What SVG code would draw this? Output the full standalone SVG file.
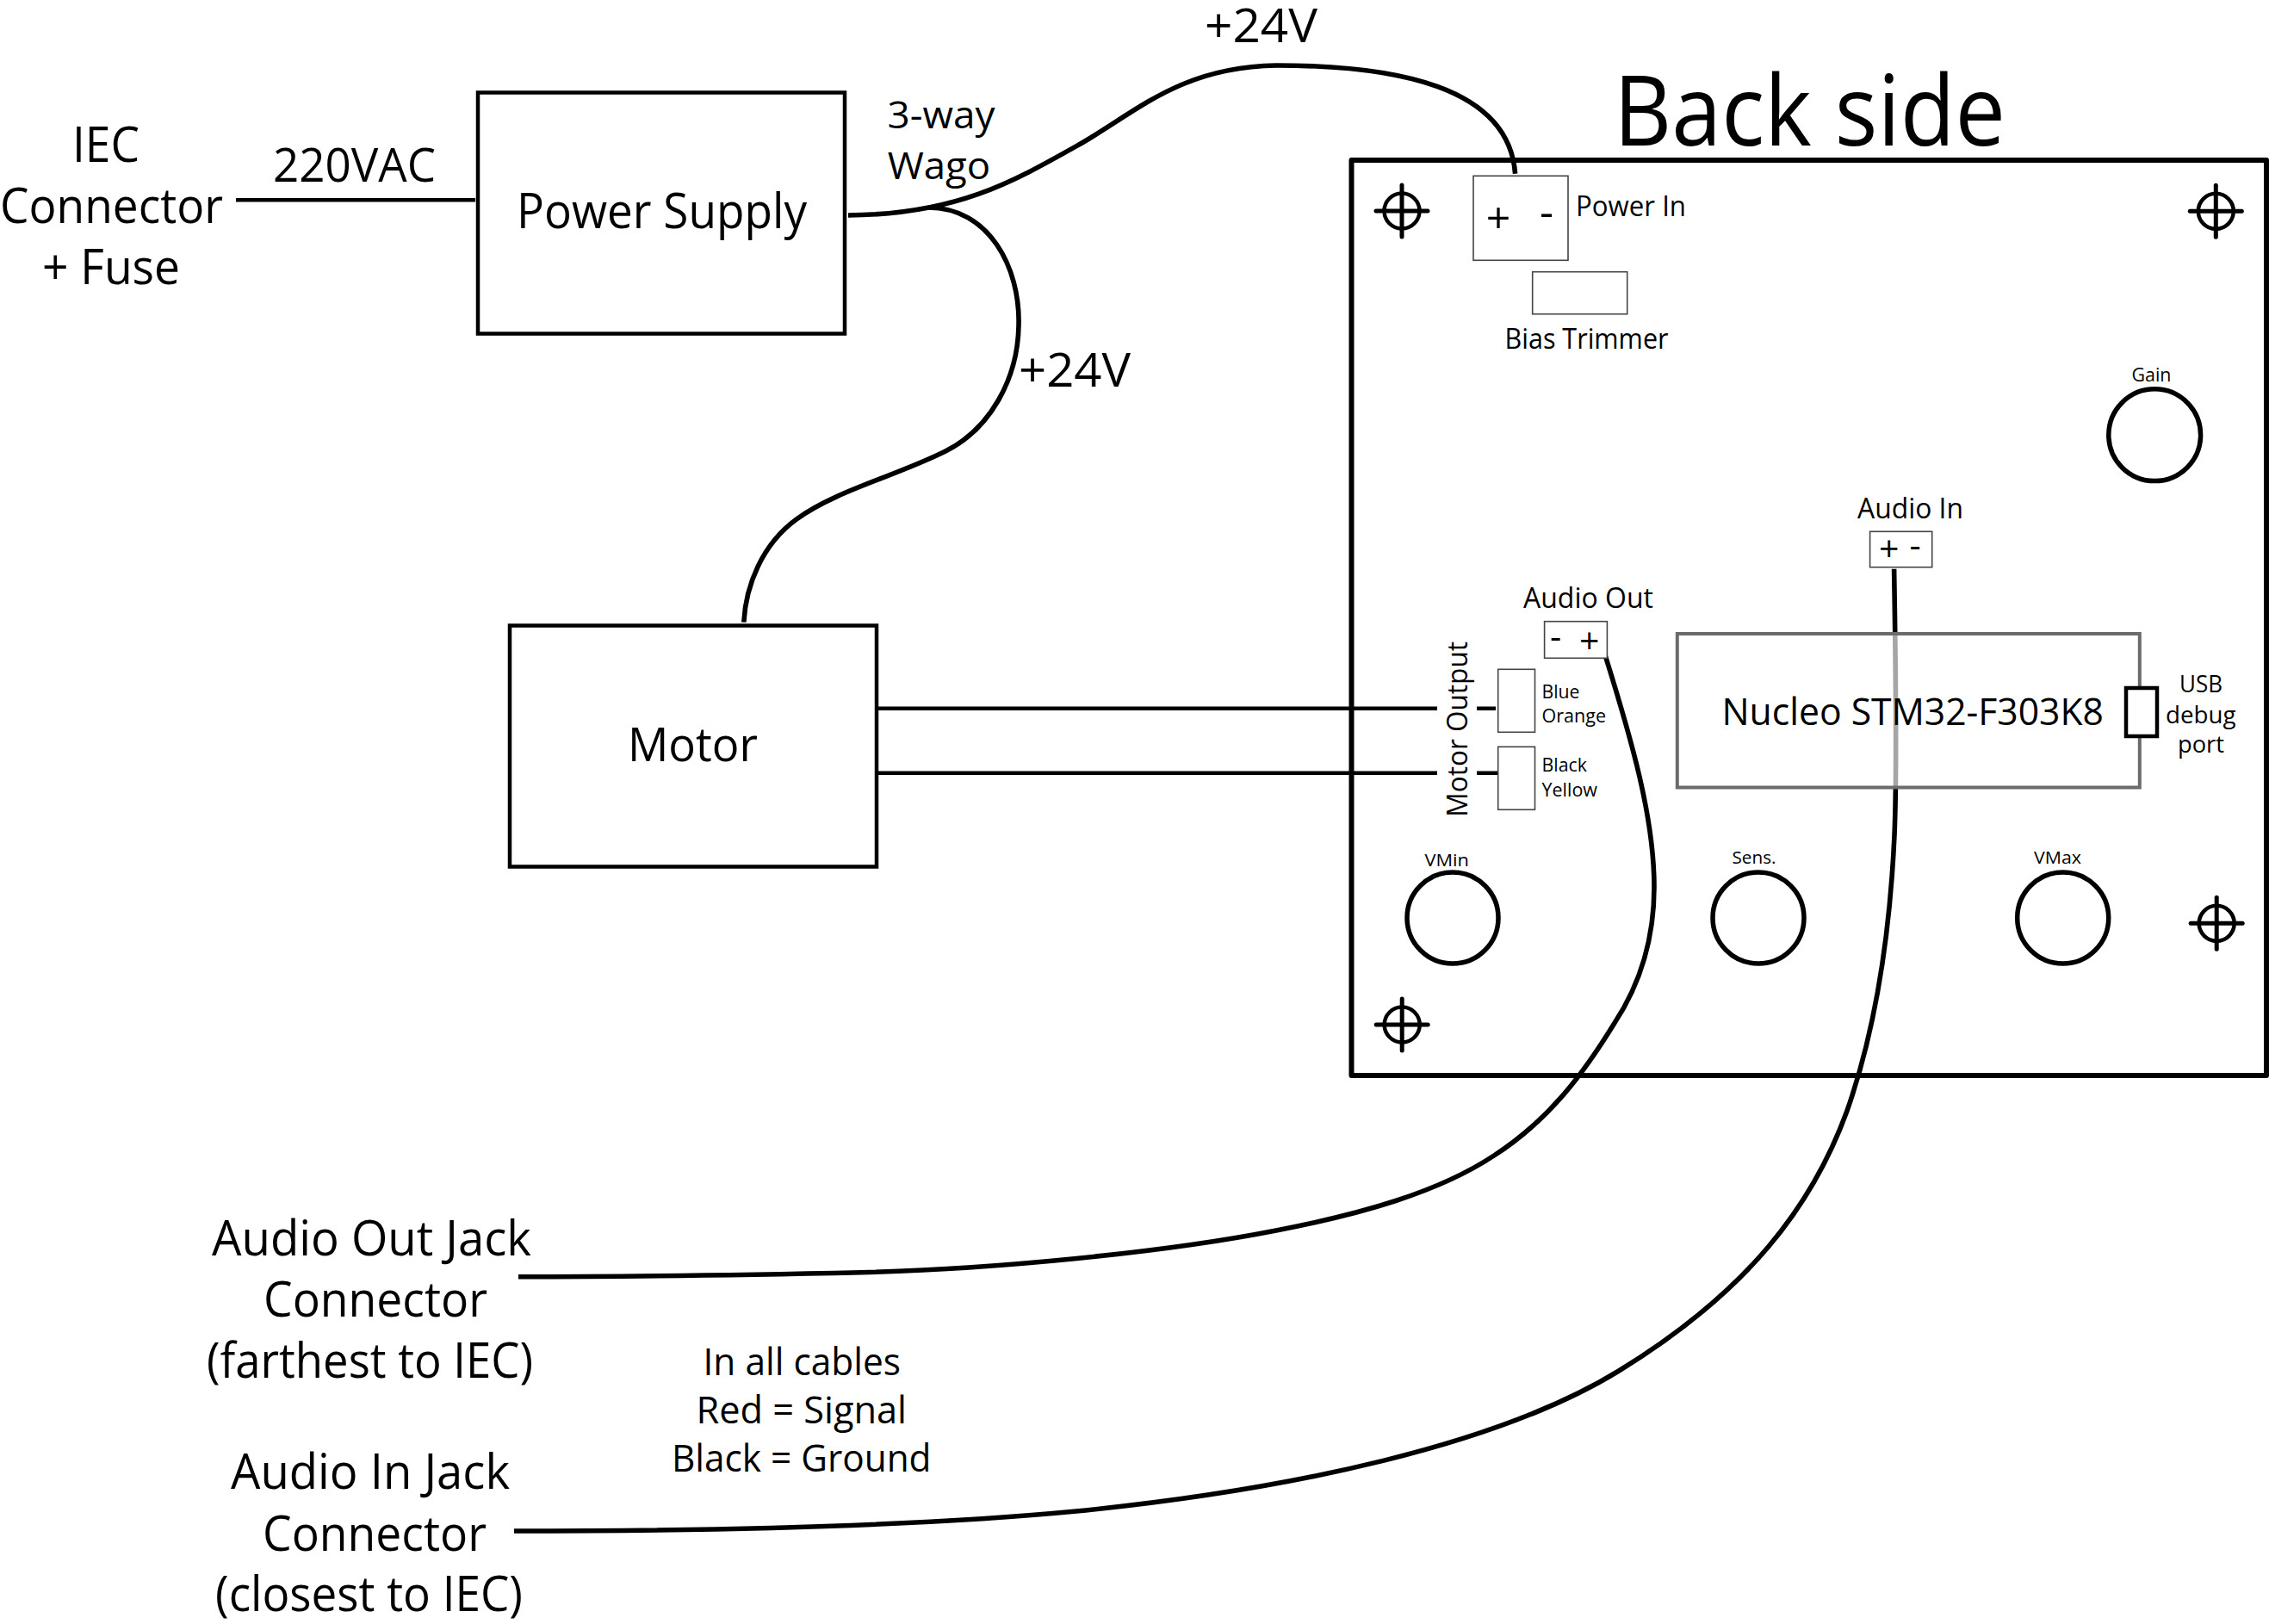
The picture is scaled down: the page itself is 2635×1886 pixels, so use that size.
<svg xmlns="http://www.w3.org/2000/svg" width="2635" height="1886" viewBox="0 0 2635 1886">
<style>
text{font-family:"Open Sans","Noto Sans","Liberation Sans",sans-serif;fill:#000}
.f113{font-size:113px}.f56{font-size:56px}.f55{font-size:55px}.f44{font-size:44px}.f43{font-size:43px}.f33{font-size:33px}.f32{font-size:32px}.f27{font-size:27px}.f21{font-size:21px}.f20{font-size:20px}.f50{font-size:50px}.f41{font-size:41px}
.sign{text-anchor:middle}
.box{fill:#fff;stroke:#000;stroke-width:4.5}
.small{fill:#fff;stroke:#444;stroke-width:1.6}
.knob{fill:none;stroke:#000;stroke-width:5.5}
.wire{fill:none;stroke:#000;stroke-width:5.6}
.line{fill:none;stroke:#000;stroke-width:4.5}
.crossc{fill:none;stroke:#000;stroke-width:4.5}
.crossl{stroke:#000;stroke-width:5;stroke-linecap:round}
</style>
<defs>
<g id="cross"><circle class="crossc" r="20.5"/><line class="crossl" x1="-30" x2="30"/><line class="crossl" y1="-30" y2="30"/></g>
</defs>
<g id="iec-label">
<text class="f56" x="84" y="188" textLength="78" lengthAdjust="spacingAndGlyphs">IEC</text>
<text class="f56" x="0" y="258.5" textLength="259" lengthAdjust="spacingAndGlyphs">Connector</text>
<text class="f56" x="49" y="329.5" textLength="160" lengthAdjust="spacingAndGlyphs">+ Fuse</text>
</g>
<g id="board"><rect x="1569.5" y="186" width="1062.5" height="1063" fill="#fff" stroke="#000" stroke-width="6" stroke-linejoin="round"/></g>
<g id="connectors">
<path class="line" d="M274 232.3H552"/>
<text class="f55" x="317" y="210.7" textLength="189" lengthAdjust="spacingAndGlyphs">220VAC</text>
<path id="wire-24v-board" class="wire" d="M985 250C1110 249 1175 212 1253 168C1320 130 1370 78 1482 76C1620 76 1752 100 1759.6 201.7"/>
<path id="wire-24v-motor" class="wire" d="M1078 241C1148 241 1185 310 1183 378C1182 440 1150 498 1098 524C1040 553 970 570 925 603C885 632 866 680 863.8 722.7"/>
<path class="line" d="M1020 822.7H1669M1715 822.7H1737M1020 897.7H1669M1715 897.7H1740"/>
<path id="wire-audio-out" class="wire" d="M1864 760.7C1895 860 1921 950 1921 1030C1921 1100 1900 1150 1875 1188C1840 1245 1800 1300 1735 1342C1670 1385 1580 1410 1482 1429C1350 1455 1150 1474 1000 1477.7C850 1481 700 1482.7 602 1482.7"/>
<path id="wire-audio-in" class="wire" d="M2199.6 660.7C2202 800 2203 900 2200 970C2195 1080 2180 1190 2145 1290C2105 1400 2030 1500 1880 1592C1740 1678 1500 1730 1250 1755C1060 1773 800 1778 597 1778"/>
</g>
<g id="power-supply">
<rect class="box" x="555" y="107.5" width="426" height="280"/>
<text class="f56" x="600" y="265" textLength="337" lengthAdjust="spacingAndGlyphs">Power Supply</text>
</g>
<g id="wago-label">
<text class="f43" x="1030.5" y="149.3" textLength="125" lengthAdjust="spacingAndGlyphs">3-way</text>
<text class="f43" x="1030.7" y="208.3" textLength="119.6" lengthAdjust="spacingAndGlyphs">Wago</text>
</g>
<g id="labels-24v">
<text class="f55" x="1399" y="49" textLength="131" lengthAdjust="spacingAndGlyphs">+24V</text>
<text class="f55" x="1183" y="449" textLength="130" lengthAdjust="spacingAndGlyphs">+24V</text>
</g>
<g id="motor">
<rect class="box" x="592" y="726.5" width="426" height="280"/>
<text class="f55" x="729" y="884" textLength="151" lengthAdjust="spacingAndGlyphs">Motor</text>
</g>
<g id="title"><text class="f113" x="1874" y="169" textLength="455" lengthAdjust="spacingAndGlyphs">Back side</text></g>
<g id="mount-holes">
<use href="#cross" x="1628" y="245"/>
<use href="#cross" x="2573.3" y="245.3"/>
<use href="#cross" x="2574.2" y="1072.3"/>
<use href="#cross" x="1628.2" y="1190"/>
</g>
<g id="power-in">
<rect class="small" x="1711" y="204.3" width="110" height="98"/>
<text class="f50 sign" x="1740" y="271">+</text>
<text class="f50 sign" x="1796" y="264">-</text>
<text class="f32" x="1830" y="250.7" textLength="128" lengthAdjust="spacingAndGlyphs">Power In</text>
</g>
<g id="bias-trimmer">
<rect class="small" x="1779.7" y="315.7" width="110" height="49"/>
<text class="f32" x="1747.5" y="405" textLength="190" lengthAdjust="spacingAndGlyphs">Bias Trimmer</text>
</g>
<g id="gain">
<text class="f21" x="2475.5" y="442.7" textLength="46" lengthAdjust="spacingAndGlyphs">Gain</text>
<circle class="knob" cx="2502.2" cy="505.2" r="53.4"/>
</g>
<g id="audio-in">
<text class="f32" x="2157" y="602.3" textLength="123" lengthAdjust="spacingAndGlyphs">Audio In</text>
<rect class="small" x="2171.6" y="617.3" width="72.1" height="41.4"/>
<text class="f41 sign" x="2193.7" y="652">+</text>
<text class="f41 sign" x="2224" y="647">-</text>
</g>
<g id="audio-out">
<text class="f32" x="1769" y="706" textLength="151" lengthAdjust="spacingAndGlyphs">Audio Out</text>
<rect class="small" x="1793.6" y="721.7" width="72.8" height="42.6"/>
<text class="f41 sign" x="1806.7" y="752.5">-</text>
<text class="f41 sign" x="1845.7" y="758.7">+</text>
</g>
<g id="motor-output">
<text class="f33" transform="translate(1704,948.7) rotate(-90)" textLength="203.7" lengthAdjust="spacingAndGlyphs">Motor Output</text>
<rect class="small" x="1739.7" y="777.3" width="42.8" height="73"/>
<rect class="small" x="1739.7" y="867.3" width="42.8" height="73"/>
<text class="f21" x="1790.5" y="810.7" textLength="44" lengthAdjust="spacingAndGlyphs">Blue</text>
<text class="f21" x="1790.5" y="839.3" textLength="74.5" lengthAdjust="spacingAndGlyphs">Orange</text>
<text class="f21" x="1790.5" y="896" textLength="52.5" lengthAdjust="spacingAndGlyphs">Black</text>
<text class="f21" x="1790.5" y="925" textLength="64.5" lengthAdjust="spacingAndGlyphs">Yellow</text>
</g>
<g id="nucleo">
<rect x="1947.8" y="736" width="537" height="178.5" fill="#fff" fill-opacity="0.65" stroke="#6b6b6b" stroke-width="4"/>
<text class="f43" x="1999.5" y="841.5" textLength="443.5" lengthAdjust="spacingAndGlyphs">Nucleo STM32-F303K8</text>
<rect x="2469" y="799" width="36" height="56" fill="#fff" stroke="#000" stroke-width="4.5"/>
<text class="f27" x="2531" y="804" textLength="50" lengthAdjust="spacingAndGlyphs">USB</text>
<text class="f27" x="2515" y="840" textLength="81.5" lengthAdjust="spacingAndGlyphs">debug</text>
<text class="f27" x="2529" y="874" textLength="54" lengthAdjust="spacingAndGlyphs">port</text>
</g>
<g id="vmin">
<text class="f20" x="1654.5" y="1005.7" textLength="51.5" lengthAdjust="spacingAndGlyphs">VMin</text>
<circle class="knob" cx="1687" cy="1066" r="53"/>
</g>
<g id="sens">
<text class="f20" x="2011.5" y="1003.3" textLength="51" lengthAdjust="spacingAndGlyphs">Sens.</text>
<circle class="knob" cx="2042" cy="1066" r="53"/>
</g>
<g id="vmax">
<text class="f20" x="2362" y="1003.3" textLength="55" lengthAdjust="spacingAndGlyphs">VMax</text>
<circle class="knob" cx="2395.7" cy="1066" r="53"/>
</g>
<g id="audio-out-jack">
<text class="f56" x="246" y="1458.3" textLength="371" lengthAdjust="spacingAndGlyphs">Audio Out Jack</text>
<text class="f56" x="306" y="1529" textLength="260" lengthAdjust="spacingAndGlyphs">Connector</text>
<text class="f56" x="240" y="1600" textLength="379" lengthAdjust="spacingAndGlyphs">(farthest to IEC)</text>
</g>
<g id="audio-in-jack">
<text class="f56" x="268" y="1729.3" textLength="324" lengthAdjust="spacingAndGlyphs">Audio In Jack</text>
<text class="f56" x="305" y="1800.7" textLength="260" lengthAdjust="spacingAndGlyphs">Connector</text>
<text class="f56" x="250" y="1871" textLength="357" lengthAdjust="spacingAndGlyphs">(closest to IEC)</text>
</g>
<g id="cable-note">
<text class="f44" x="816.5" y="1596.7" textLength="229.5" lengthAdjust="spacingAndGlyphs">In all cables</text>
<text class="f44" x="808.5" y="1652.7" textLength="244.5" lengthAdjust="spacingAndGlyphs">Red = Signal</text>
<text class="f44" x="780" y="1709.3" textLength="301.5" lengthAdjust="spacingAndGlyphs">Black = Ground</text>
</g>
</svg>
